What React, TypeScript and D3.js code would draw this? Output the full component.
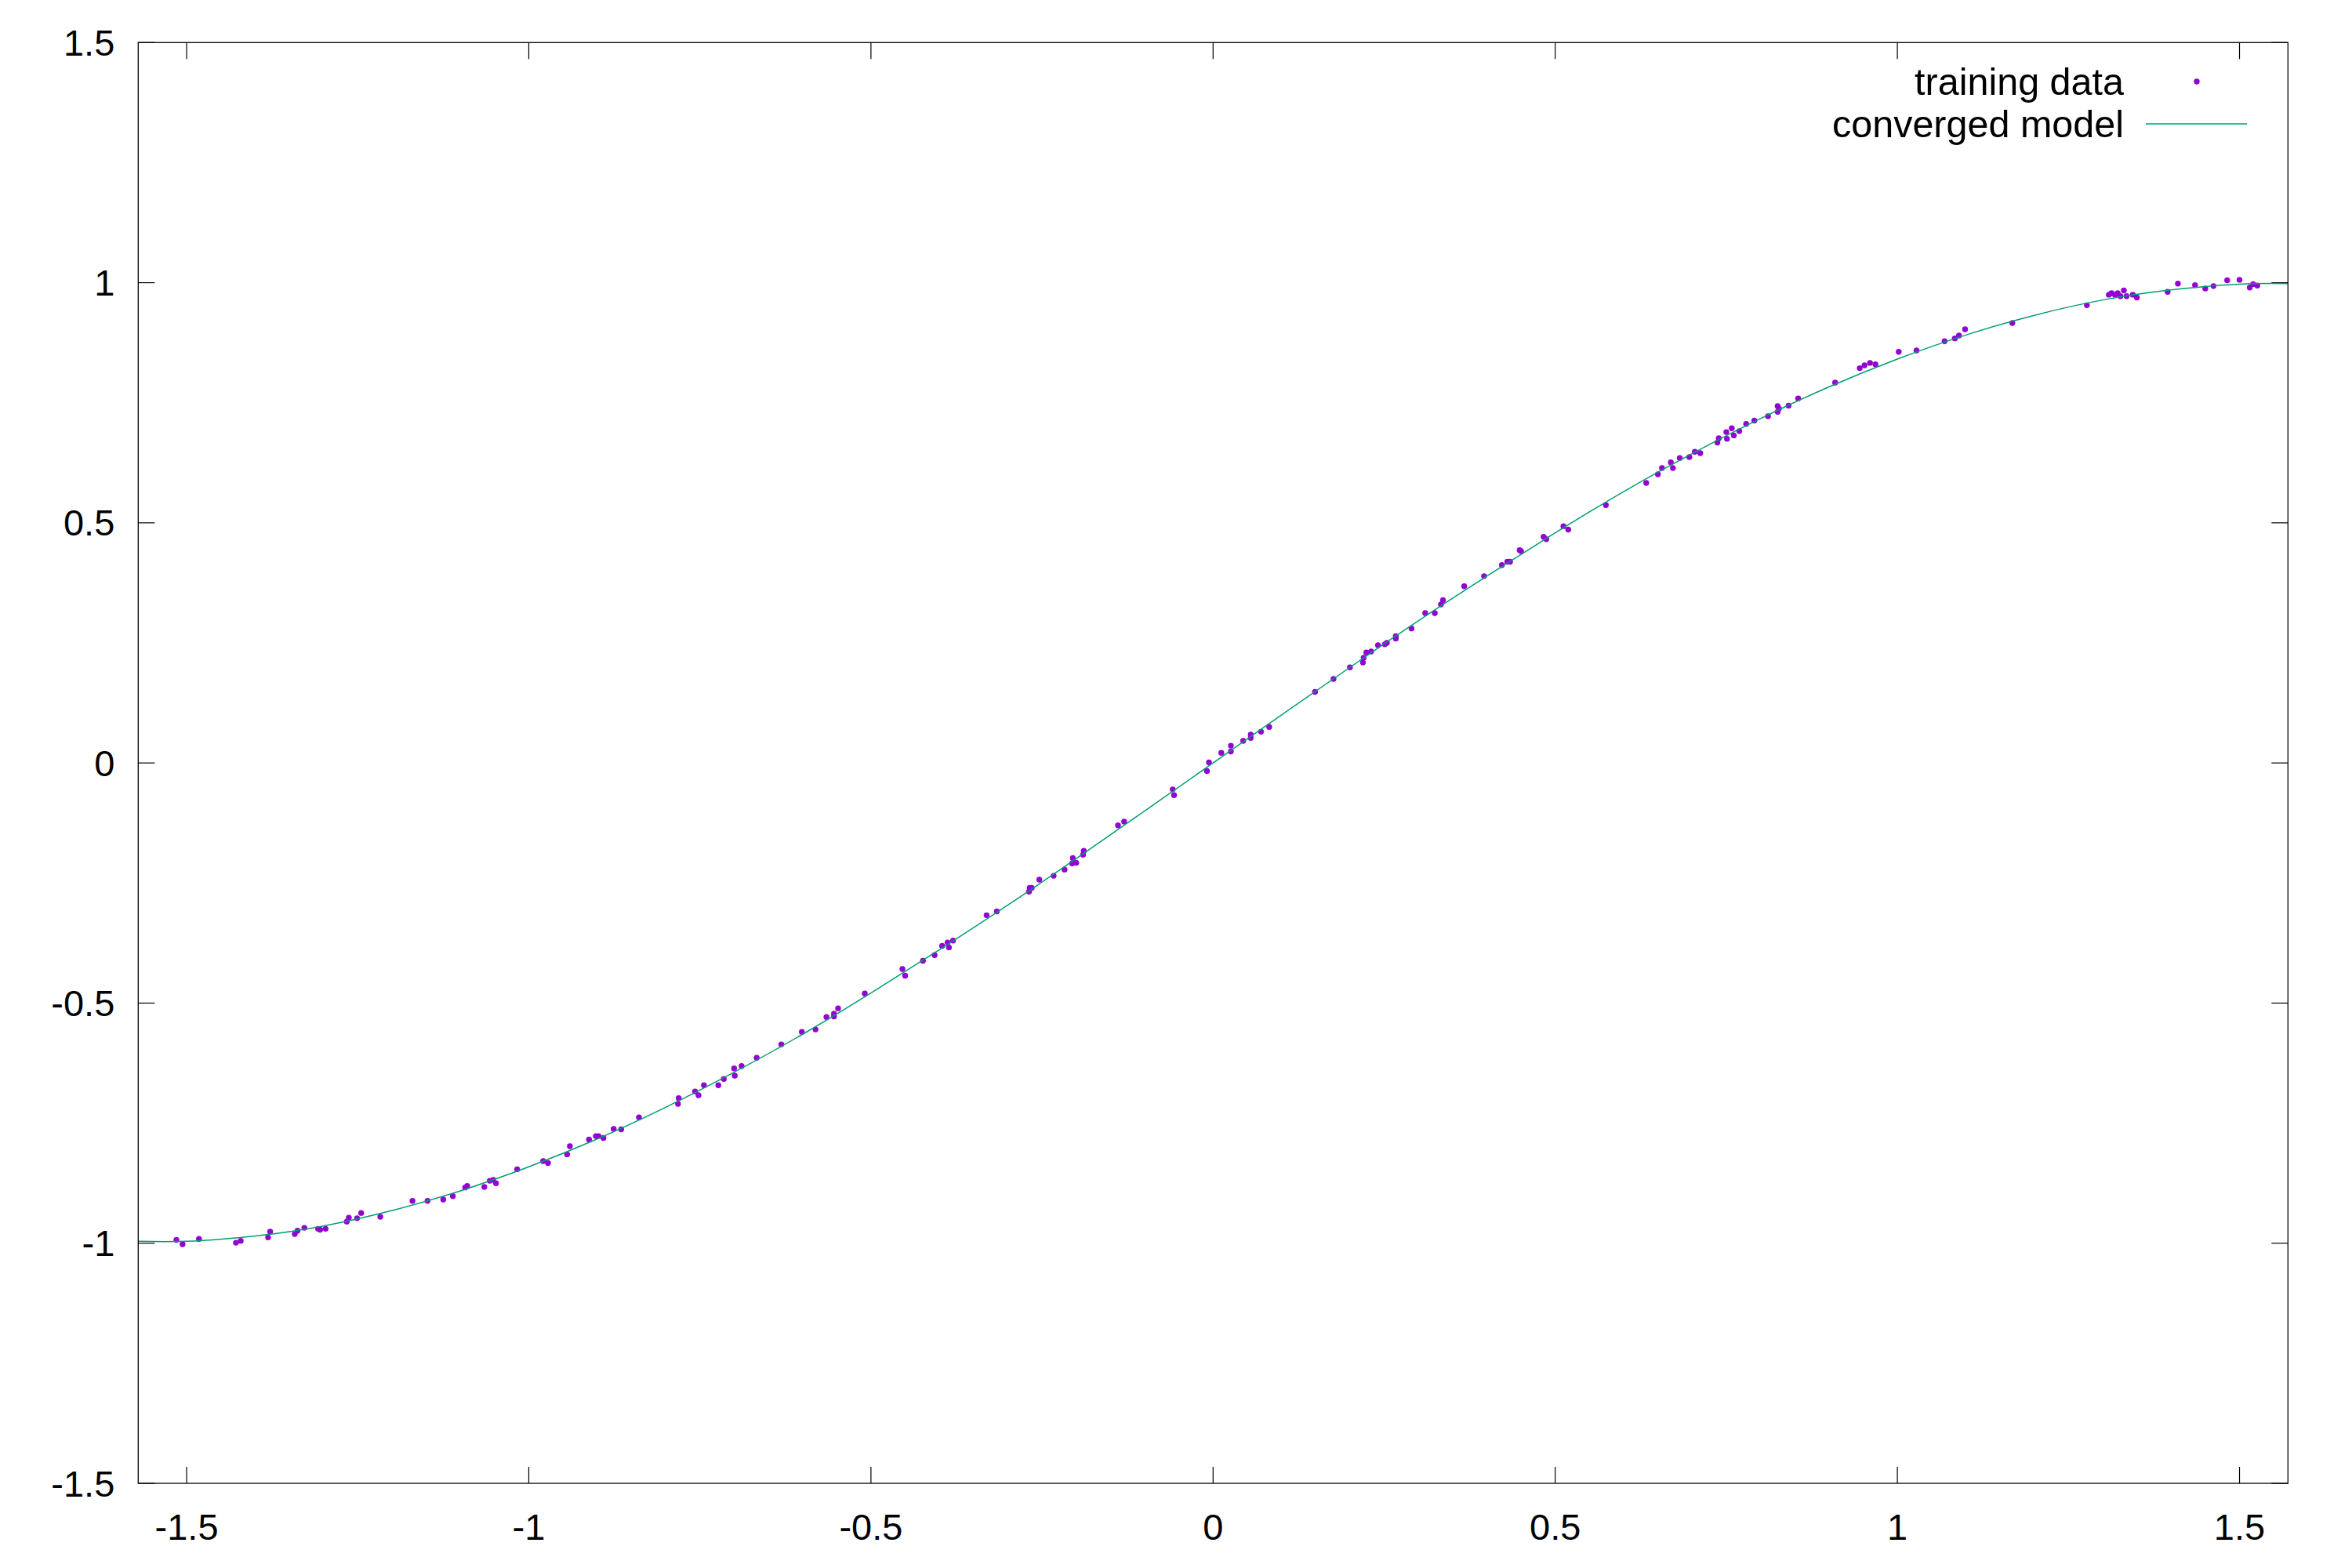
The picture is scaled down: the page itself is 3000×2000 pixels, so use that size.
import { useEffect, useRef } from "react";
import * as d3 from "d3";

const WIDTH = 3000;
const HEIGHT = 2000;
const margin = { top: 54.3, right: 81.7, bottom: 108, left: 176.3 };

const COLORS = {
  points: "#9400d3",
  model: "#009e73",
  frame: "#000000",
  text: "#000000",
};

const FONT = "'Liberation Sans', Arial, sans-serif";

const xTicks = [-1.5, -1, -0.5, 0, 0.5, 1, 1.5];
const xTickLabels = ["-1.5", "-1", "-0.5", "0", "0.5", "1", "1.5"];
const yTicks = [-1.5, -1, -0.5, 0, 0.5, 1, 1.5];
const yTickLabels = ["-1.5", "-1", "-0.5", "0", "0.5", "1", "1.5"];

const legendLabels = ["training data", "converged model"];

// training data
const trainX = [
  -1.515, -1.506, -1.482, -1.428, -1.421, -1.381, -1.378, -1.342, -1.338, -1.328,
  -1.308, -1.305, -1.297, -1.266, -1.263, -1.251, -1.245, -1.217,
  -1.17, -1.148, -1.125, -1.111, -1.093, -1.09, -1.065, -1.057, -1.052, -1.048,
  -1.017, -0.979, -0.972, -0.944, -0.94, -0.912, -0.902, -0.898, -0.891, -0.876,
  -0.865, -0.839,
  -0.781, -0.782, -0.757, -0.752, -0.744, -0.723, -0.715, -0.7, -0.699, -0.689,
  -0.667, -0.631, -0.601, -0.581, -0.565, -0.554, -0.554, -0.548, -0.509,
  -0.454, -0.45, -0.424, -0.407, -0.396, -0.388, -0.386, -0.38, -0.331, -0.316,
  -0.269, -0.268, -0.265, -0.254, -0.233, -0.217, -0.206, -0.205, -0.2, -0.19,
  -0.189, -0.139, -0.13,
  -0.059, -0.057, -0.009, -0.006, 0.012, 0.026, 0.026, 0.044, 0.055, 0.055,
  0.07, 0.082, 0.149, 0.176, 0.2, 0.219, 0.22, 0.224, 0.231,
  0.241, 0.251, 0.254, 0.267, 0.267, 0.29, 0.31, 0.324, 0.333, 0.336,
  0.367, 0.396, 0.422, 0.43, 0.434, 0.448, 0.45, 0.483, 0.487, 0.512,
  0.519, 0.574,
  0.633, 0.65, 0.656, 0.669, 0.672, 0.682, 0.696, 0.704, 0.712, 0.737,
  0.739, 0.75, 0.751, 0.758, 0.761, 0.769, 0.779, 0.791, 0.811, 0.825,
  0.827, 0.825, 0.841, 0.855, 0.909,
  0.945, 0.952, 0.96, 0.968, 1.002, 1.028, 1.069, 1.084, 1.09, 1.099,
  1.168, 1.277, 1.309, 1.313, 1.318, 1.322, 1.326, 1.331, 1.335, 1.344,
  1.35, 1.395, 1.41, 1.435, 1.45, 1.462, 1.482, 1.5, 1.515, 1.52, 1.526,
];
const trainY = [
  -0.993, -1.002, -0.991, -0.999, -0.995, -0.988, -0.976, -0.981, -0.974, -0.968,
  -0.97, -0.972, -0.97, -0.955, -0.947, -0.948, -0.937, -0.945,
  -0.912, -0.912, -0.909, -0.902, -0.884, -0.881, -0.883, -0.87, -0.868, -0.875,
  -0.846, -0.829, -0.833, -0.815, -0.798, -0.784, -0.777, -0.777, -0.781, -0.762,
  -0.763, -0.738,
  -0.698, -0.71, -0.684, -0.692, -0.671, -0.671, -0.658, -0.636, -0.651, -0.631,
  -0.614, -0.586, -0.56, -0.555, -0.529, -0.522, -0.528, -0.511, -0.48,
  -0.429, -0.443, -0.412, -0.4, -0.381, -0.374, -0.384, -0.37, -0.317, -0.309,
  -0.268, -0.26, -0.26, -0.243, -0.235, -0.222, -0.209, -0.198, -0.208, -0.191,
  -0.183, -0.13, -0.122,
  -0.055, -0.067, -0.017, 0.001, 0.021, 0.036, 0.024, 0.046, 0.059, 0.052,
  0.065, 0.075, 0.148, 0.175, 0.199, 0.209, 0.219, 0.23, 0.232,
  0.245, 0.247, 0.25, 0.264, 0.259, 0.28, 0.312, 0.312, 0.33, 0.339,
  0.368, 0.389, 0.412, 0.419, 0.419, 0.443, 0.441, 0.471, 0.466, 0.493,
  0.486, 0.537,
  0.583, 0.601, 0.614, 0.626, 0.614, 0.635, 0.637, 0.648, 0.645, 0.667,
  0.676, 0.689, 0.675, 0.697, 0.682, 0.691, 0.706, 0.713, 0.722, 0.743,
  0.738, 0.731, 0.744, 0.759, 0.792,
  0.822, 0.828, 0.833, 0.83, 0.856, 0.859, 0.878, 0.884, 0.89, 0.903,
  0.916, 0.953, 0.975, 0.978, 0.975, 0.978, 0.972, 0.984, 0.972, 0.975,
  0.969, 0.981, 0.998, 0.995, 0.988, 0.993, 1.005, 1.006, 0.99, 0.997, 0.994,
];

// converged model curve
const modelX = [
  -1.5708, -1.5, -1.4, -1.3, -1.2, -1.1, -1.0, -0.9, -0.8, -0.7, -0.6, -0.5,
  -0.4, -0.3, -0.2, -0.1, 0, 0.1, 0.2, 0.3, 0.4, 0.5, 0.6, 0.7, 0.8, 0.9,
  1.0, 1.1, 1.2, 1.3, 1.4, 1.5, 1.5708,
];
const modelY = [
  -0.996, -0.996, -0.985, -0.964, -0.932, -0.891, -0.841, -0.783, -0.717, -0.644,
  -0.565, -0.479, -0.389, -0.296, -0.199, -0.1, 0, 0.1, 0.199, 0.296, 0.389,
  0.479, 0.565, 0.644, 0.717, 0.783, 0.841, 0.891, 0.932, 0.964, 0.985, 0.997,
  0.998,
];

export default function App() {
  const svgRef = useRef<SVGSVGElement>(null);

  useEffect(() => {
    if (!svgRef.current) return;
    document.body.style.margin = "0";

    const svg = d3.select(svgRef.current);
    svg.selectAll("*").remove();

    const x = d3.scaleLinear()
      .domain([-Math.PI / 2, Math.PI / 2])
      .range([margin.left, WIDTH - margin.right]);
    const y = d3.scaleLinear()
      .domain([-1.5, 1.5])
      .range([HEIGHT - margin.bottom, margin.top]);

    const x0 = margin.left;
    const x1 = WIDTH - margin.right;
    const y0 = margin.top;
    const y1 = HEIGHT - margin.bottom;
    const tickLen = 21;

    svg.append("rect")
      .attr("width", WIDTH)
      .attr("height", HEIGHT)
      .attr("fill", "#fff");

    // ticks, inward on all four sides
    const ticks = svg.append("g")
      .attr("stroke", COLORS.frame)
      .attr("stroke-width", 1.2);

    xTicks.forEach((t) => {
      ticks.append("line")
        .attr("x1", x(t)).attr("x2", x(t))
        .attr("y1", y1).attr("y2", y1 - tickLen);
      ticks.append("line")
        .attr("x1", x(t)).attr("x2", x(t))
        .attr("y1", y0).attr("y2", y0 + tickLen);
    });
    yTicks.forEach((t) => {
      ticks.append("line")
        .attr("x1", x0).attr("x2", x0 + tickLen)
        .attr("y1", y(t)).attr("y2", y(t));
      ticks.append("line")
        .attr("x1", x1).attr("x2", x1 - tickLen)
        .attr("y1", y(t)).attr("y2", y(t));
    });

    // tick labels
    const labels = svg.append("g")
      .attr("font-family", FONT)
      .attr("font-size", 47)
      .attr("fill", COLORS.text);

    xTicks.forEach((t, i) => {
      labels.append("text")
        .attr("x", x(t))
        .attr("y", y1 + 72)
        .attr("text-anchor", "middle")
        .text(xTickLabels[i]);
    });
    yTicks.forEach((t, i) => {
      labels.append("text")
        .attr("x", x0 - 30)
        .attr("y", y(t) + 16.5)
        .attr("text-anchor", "end")
        .text(yTickLabels[i]);
    });

    // clip to the plot area
    svg.append("defs")
      .append("clipPath")
      .attr("id", "plot-clip")
      .append("rect")
      .attr("x", x0).attr("y", y0)
      .attr("width", x1 - x0).attr("height", y1 - y0);

    const plot = svg.append("g").attr("clip-path", "url(#plot-clip)");

    // training data points
    plot.append("g")
      .selectAll("circle")
      .data(trainX.map((v, i) => [v, trainY[i]]))
      .join("circle")
      .attr("cx", (d) => x(d[0]))
      .attr("cy", (d) => y(d[1]))
      .attr("r", 3.7)
      .attr("fill", COLORS.points);

    // converged model line
    const line = d3.line<number>()
      .x((d) => x(d))
      .y((_, i) => y(modelY[i]))
      .curve(d3.curveNatural);

    plot.append("path")
      .datum(modelX)
      .attr("d", line)
      .attr("fill", "none")
      .attr("stroke", COLORS.model)
      .attr("stroke-width", 1.5);

    // frame
    svg.append("rect")
      .attr("x", x0).attr("y", y0)
      .attr("width", x1 - x0).attr("height", y1 - y0)
      .attr("fill", "none")
      .attr("stroke", COLORS.frame)
      .attr("stroke-width", 1.3);

    // legend
    const legend = svg.append("g")
      .attr("font-family", FONT)
      .attr("font-size", 48.5)
      .attr("fill", COLORS.text);

    const legendRows = [104, 158];
    legendLabels.forEach((label, i) => {
      legend.append("text")
        .attr("x", 2709)
        .attr("y", legendRows[i] + 17)
        .attr("text-anchor", "end")
        .text(label);
    });
    legend.append("circle")
      .attr("cx", 2802)
      .attr("cy", legendRows[0])
      .attr("r", 3.7)
      .attr("fill", COLORS.points);
    legend.append("line")
      .attr("x1", 2737).attr("x2", 2866)
      .attr("y1", legendRows[1]).attr("y2", legendRows[1])
      .attr("stroke", COLORS.model)
      .attr("stroke-width", 1.5);
  }, []);

  return (
    <div style={{ position: "absolute", left: 0, top: 0 }}>
      <svg ref={svgRef} width={WIDTH} height={HEIGHT} style={{ display: "block" }} />
    </div>
  );
}
